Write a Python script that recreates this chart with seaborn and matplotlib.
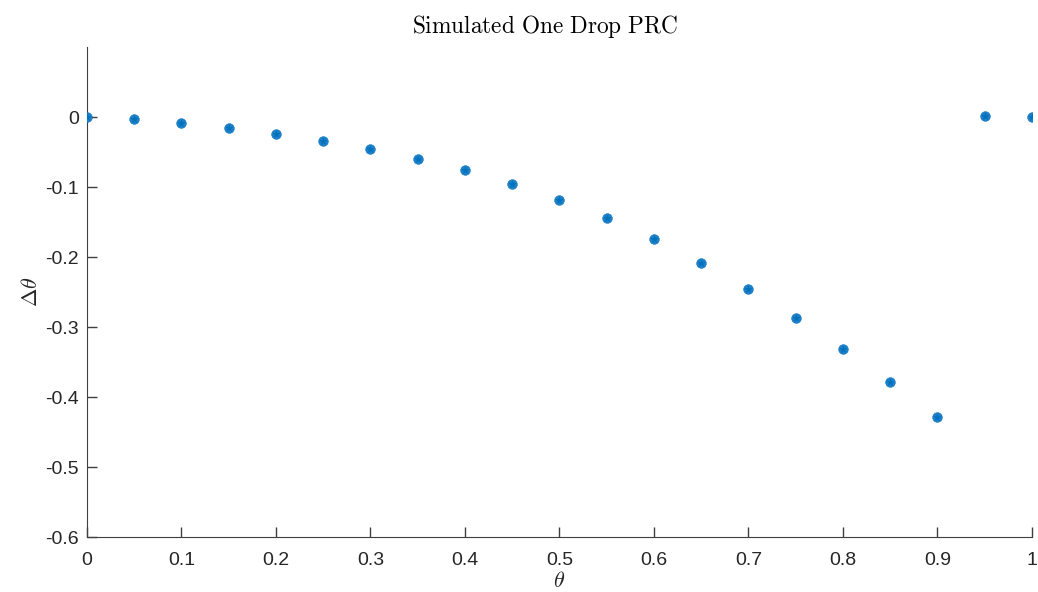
import matplotlib
matplotlib.use("Agg")
import matplotlib.pyplot as plt
import numpy as np
import pandas as pd
import seaborn as sns

theta = [0, 0.05, 0.1, 0.15, 0.2, 0.25, 0.3, 0.35, 0.4, 0.45, 0.5,
         0.55, 0.6, 0.65, 0.7, 0.75, 0.8, 0.85, 0.9, 0.95, 1.0]
delta_theta = [0, -0.003, -0.009, -0.016, -0.024, -0.034, -0.046, -0.060,
               -0.076, -0.096, -0.119, -0.144, -0.174, -0.209, -0.246,
               -0.287, -0.331, -0.379, -0.429, 0.001, 0]
x_ticks = [0, 0.1, 0.2, 0.3, 0.4, 0.5, 0.6, 0.7, 0.8, 0.9, 1]
x_tick_labels = ["0", "0.1", "0.2", "0.3", "0.4", "0.5", "0.6", "0.7", "0.8", "0.9", "1"]
y_ticks = [-0.6, -0.5, -0.4, -0.3, -0.2, -0.1, 0]
y_tick_labels = ["-0.6", "-0.5", "-0.4", "-0.3", "-0.2", "-0.1", "0"]

sns.set_style("ticks", {"xtick.direction": "in", "ytick.direction": "in"})
plt.rcParams["font.family"] = ["Liberation Sans", "DejaVu Sans"]
plt.rcParams["mathtext.fontset"] = "cm"

df = pd.DataFrame({"theta": theta, "dtheta": delta_theta})

fig = plt.figure(figsize=(10.38, 5.92), dpi=100)
ax = fig.add_axes([0.0838, 0.0929, 0.9104, 0.8277])

color = "#0072BD"
sns.scatterplot(data=df, x="theta", y="dtheta", ax=ax, color="#1f80c8",
                s=50, marker="o", edgecolor=color, linewidth=0.3, zorder=3)
sns.scatterplot(data=df, x="theta", y="dtheta", ax=ax, color=color,
                s=28, marker="*", linewidth=0.3, edgecolor=color, zorder=4)

ax.set_xlim(0, 1)
ax.set_ylim(-0.6, 0.1)
ax.set_xticks(x_ticks)
ax.set_xticklabels(x_tick_labels)
ax.set_yticks(y_ticks)
ax.set_yticklabels(y_tick_labels)
ax.set_axisbelow(False)
ax.tick_params(axis="both", which="major", bottom=True, left=True,
               top=False, right=False,
               direction="in", length=7, width=1.0, color="#404040",
               labelcolor="#262626", labelsize=14, pad=6)
ax.tick_params(axis="x", pad=11)
for side in ["top", "right"]:
    ax.spines[side].set_visible(False)
for side in ["left", "bottom"]:
    ax.spines[side].set_color("#404040")
    ax.spines[side].set_linewidth(0.8)

ax.set_xlabel(r"$\theta$", fontsize=16, labelpad=1, color="#262626")
ax.set_ylabel(r"$\Delta\theta$", fontsize=16, labelpad=2, color="#262626")
ax.set_title(r"$\mathrm{Simulated\ One\ Drop\ PRC}$", fontsize=16.8,
             color="black", pad=10, x=0.485)

fig.savefig("out.png", dpi=100)
